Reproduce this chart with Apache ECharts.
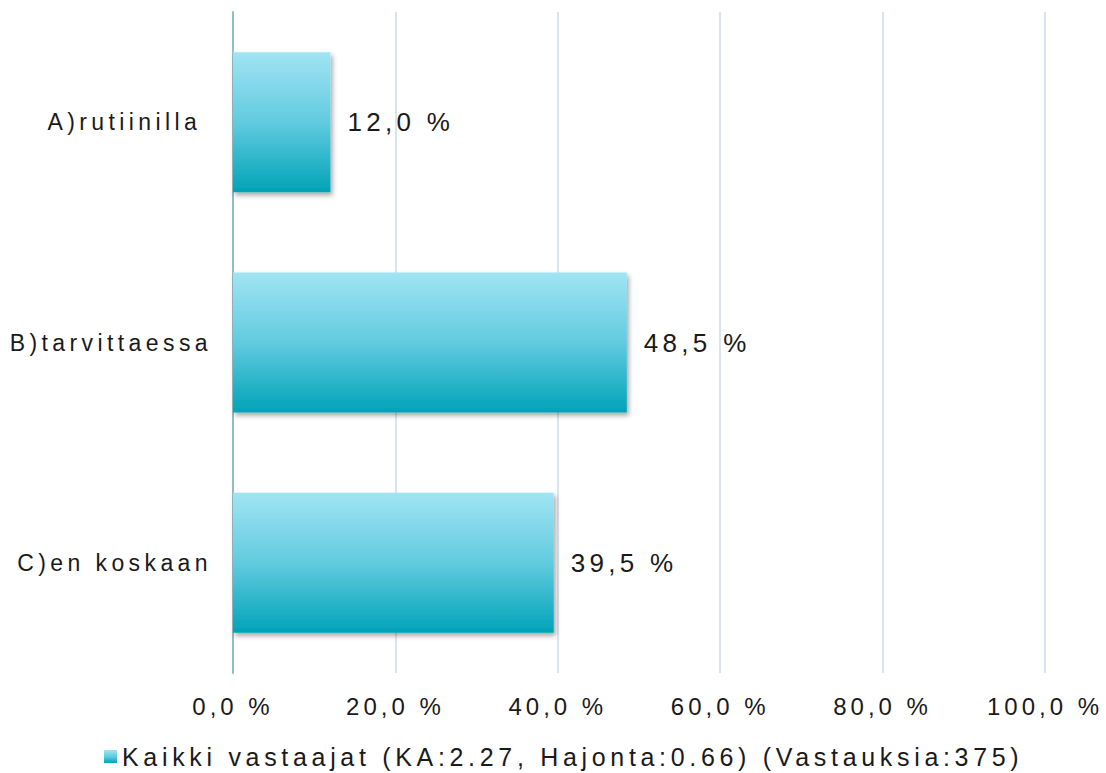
<!DOCTYPE html>
<html>
<head>
<meta charset="utf-8">
<script src="https://cdn.jsdelivr.net/npm/echarts@6/dist/echarts.min.js"></script>
<style>
  html, body { margin: 0; padding: 0; background: #ffffff; }
  #chart { width: 1106px; height: 773px; }
  /* wide tracking, tuned per text size in the SVG output */
  #chart svg text { letter-spacing: 4.4px; }
  #chart svg text[style*="23px"] { letter-spacing: 4.4px; }
  #chart svg text[style*="24px"] { letter-spacing: 4px; }
  #chart svg text[style*="25px"] { letter-spacing: 4.68px; }
  #chart svg text[style*="26px"] { letter-spacing: 4.3px; }
</style>
</head>
<body>
<div id="chart"></div>
<script>
const categories = ['A)rutiinilla ', 'B)tarvittaessa', 'C)en koskaan'];
const shares = [12.0, 48.5, 39.5];
const seriesName = 'Kaikki vastaajat (KA:2.27, Hajonta:0.66) (Vastauksia:375)';

const fmt = v => v.toFixed(1).replace('.', ',') + ' %';
const FONT = '"Liberation Sans", Helvetica, Arial, sans-serif';

const barFill = new echarts.graphic.LinearGradient(0, 0, 0, 1, [
  { offset: 0, color: '#a0e4f3' },
  { offset: 0.5, color: '#62cbdf' },
  { offset: 1, color: '#00a3b8' }
]);

const chart = echarts.init(document.getElementById('chart'), null, { renderer: 'svg' });
chart.setOption({
  animation: false,
  textStyle: { fontFamily: FONT },
  grid: { left: 233, right: 61, top: 12, bottom: 100, containLabel: false },
  legend: {
    left: 104,
    top: 744,
    padding: 0,
    itemWidth: 13,
    itemHeight: 13,
    icon: 'rect',
    textStyle: { fontSize: 25, color: '#1a1a1a', fontFamily: FONT },
    data: [seriesName]
  },
  xAxis: {
    type: 'value',
    min: 0,
    max: 100,
    interval: 20,
    axisLine: { show: false },
    axisTick: { show: false },
    axisLabel: { formatter: v => fmt(v), fontSize: 24, color: '#1a1a1a', margin: 21 },
    splitLine: { show: true, lineStyle: { color: '#dae4ef', width: 2 } }
  },
  yAxis: {
    type: 'category',
    inverse: true,
    data: categories,
    axisLine: { show: true, lineStyle: { color: '#93bcc4', width: 2 } },
    axisTick: { show: false },
    axisLabel: { fontSize: 23, color: '#1a1a1a', margin: 21 }
  },
  series: [{
    name: seriesName,
    type: 'bar',
    data: shares,
    barWidth: 140,
    itemStyle: {
      color: barFill,
      shadowColor: 'rgba(0,0,0,0.35)',
      shadowBlur: 5,
      shadowOffsetX: 2,
      shadowOffsetY: 3
    },
    label: {
      show: true,
      position: 'right',
      distance: 17,
      formatter: p => fmt(p.value),
      fontSize: 26,
      color: '#1a1a1a'
    }
  }]
});
</script>
</body>
</html>
